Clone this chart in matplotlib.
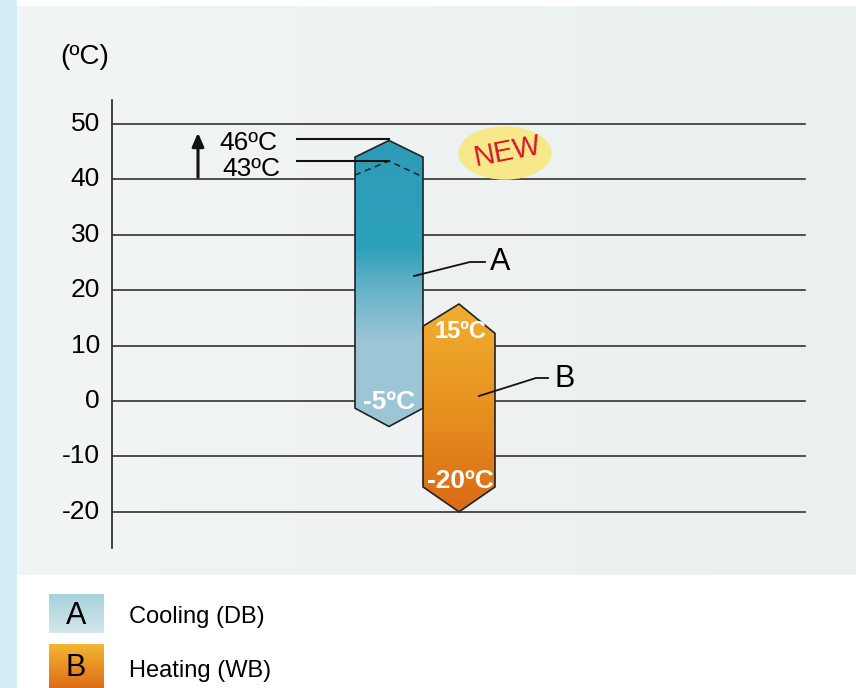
import numpy as np
import matplotlib.pyplot as plt
from matplotlib.patches import Polygon, Rectangle, Ellipse
from matplotlib.colors import LinearSegmentedColormap

# y ticks (degC)
ticks = [50, 40, 30, 20, 10, 0, -10, -20]

# operating ranges: [top peak, top corner, bottom corner, bottom peak]
cool_vals = [47.0, 44.0, -1.3, -4.6]
heat_vals = [17.5, 13.5, -15.5, -20.0]
heat_right_top = 12.2

labels_cool = ["46ºC", "43ºC", "-5ºC"]
labels_heat = ["15ºC", "-20ºC"]
legend_items = [("A", "Cooling (DB)"), ("B", "Heating (WB)")]

W, H = 856, 688
Y0, SC = 401.0, 5.543   # pixel row of 0 degC, pixels per degC
FONT = "Liberation Sans"


def v(py):
    return (Y0 - py) / SC


fig = plt.figure(figsize=(W / 100, H / 100), dpi=100)
ax = fig.add_axes([0, 0, 1, 1])
ax.set_xlim(0, W)
ax.set_ylim(v(H), v(0))
ax.axis("off")

# background
ax.add_patch(Rectangle((0, v(H)), 17, v(0) - v(H), color="#d3eef8", zorder=0))
bg = LinearSegmentedColormap.from_list("bg", ["#f2f5f5", "#eaeff0"])
ax.imshow(np.linspace(0, 1, 200).reshape(1, -1), cmap=bg, aspect="auto",
          extent=[17, W, v(575), v(5)], zorder=0.5)

# axis + grid
ax.plot([112, 112], [v(100), v(548)], color="#222222", lw=1.2, zorder=2)
for t in ticks:
    ax.plot([112, 805], [t, t], color="#333333", lw=1.2, zorder=2)
    ax.text(100, t, str(t), ha="right", va="center", fontsize=19, family=FONT)
ax.text(85, v(57), "(ºC)", ha="center", va="center", fontsize=20, family=FONT)


def hexbar(x0, x1, vals, cols, right_top=None):
    xm = (x0 + x1) / 2
    rt = vals[1] if right_top is None else right_top
    pts = [(xm, vals[0]), (x1, rt), (x1, vals[2]), (xm, vals[3]),
           (x0, vals[2]), (x0, vals[1])]
    poly = Polygon(pts, closed=True, fc="none", ec="#222222", lw=1.2, zorder=4)
    ax.add_patch(poly)
    cm = LinearSegmentedColormap.from_list("g", cols)
    im = ax.imshow(np.linspace(0, 1, 256).reshape(-1, 1), cmap=cm, aspect="auto",
                   extent=[x0, x1, vals[3], vals[0]], origin="lower", zorder=3)
    im.set_clip_path(poly)
    return xm


cool_cols = [(0.0, "#9cc5d5"), (0.3, "#9cc5d5"), (0.5, "#5fb0c6"),
             (0.62, "#2ea1bb"), (1.0, "#2d9bb7")]
heat_cols = [(0.0, "#db6a18"), (0.5, "#e7921f"), (1.0, "#f1ae32")]
xc = hexbar(355, 423, cool_vals, cool_cols)
xh = hexbar(423, 495, heat_vals, heat_cols, heat_right_top)

# dashed 43 line
ax.plot([355, xc, 423], [v(175), v(161), v(177)], ls=(0, (4, 3)), color="#222222",
        lw=1.1, zorder=5)

# leader lines to 46/43
ax.plot([297, xc], [v(139), v(139)], color="#111111", lw=1.5, zorder=5)
ax.plot([297, xc], [v(161), v(161)], color="#111111", lw=1.5, zorder=5)
ax.text(248, v(143), labels_cool[0], ha="center", va="center", fontsize=19, family=FONT)
ax.text(251, v(169), labels_cool[1], ha="center", va="center", fontsize=19, family=FONT)
ax.annotate("", xy=(198, v(130)), xytext=(198, v(180)),
            arrowprops=dict(arrowstyle="-|>,head_width=0.35,head_length=0.8",
                            color="#111111", lw=2.2))

# in-bar labels
ax.text(xc, v(402), labels_cool[2], ha="center", va="center", fontsize=19,
        fontweight="bold", color="white", zorder=6, family=FONT)
ax.text(xh + 1, v(331), labels_heat[0], ha="center", va="center", fontsize=17,
        fontweight="bold", color="white", zorder=6, family=FONT)
ax.text(xh + 1, v(481), labels_heat[1], ha="center", va="center", fontsize=19,
        fontweight="bold", color="white", zorder=6, family=FONT)

# A / B leaders
ax.plot([414, 470, 485], [v(276), v(262), v(262)], color="#111111", lw=1.3, zorder=6)
ax.text(490, v(262), "A", ha="left", va="center", fontsize=22, family=FONT)
ax.plot([479, 536, 548], [v(396), v(378), v(378)], color="#111111", lw=1.3, zorder=6)
ax.text(555, v(379), "B", ha="left", va="center", fontsize=22, family=FONT)

# NEW badge
ax.add_patch(Ellipse((505, v(153)), 92, 52 / SC, color="#f7e98a", zorder=3))
ax.text(507, v(152), "NEW", ha="center", va="center", rotation=11, fontsize=21,
        color="#d4182a", zorder=4, family=FONT)

# white legend area
ax.add_patch(Rectangle((17, v(H)), W - 17, v(575) - v(H), color="white", zorder=0.6))
ax.add_patch(Rectangle((17, v(5)), W - 17, v(0) - v(5), color="white", zorder=0.6))
leg_cols = [["#d3e6ea", "#a6d2dc"], ["#de6c17", "#f4b633"]]
leg_rows = [(594, 633), (645, 688)]
for (letter, label), cols, (r0, r1) in zip(legend_items, leg_cols, leg_rows):
    cm = LinearSegmentedColormap.from_list("l", cols)
    ax.imshow(np.linspace(0, 1, 64).reshape(-1, 1), cmap=cm, aspect="auto",
              extent=[49, 104, v(r1), v(r0)], origin="lower", zorder=1)
    ax.text(76, v((r0 + r1) / 2 + 2), letter, ha="center", va="center", fontsize=22,
            family=FONT, zorder=2)
    ax.text(129, v((r0 + r1) / 2 + 4), label, ha="left", va="center", fontsize=17,
            family=FONT, zorder=2)

ax.set_xlim(0, W)
ax.set_ylim(v(H), v(0))
fig.savefig("out.png", dpi=100)
